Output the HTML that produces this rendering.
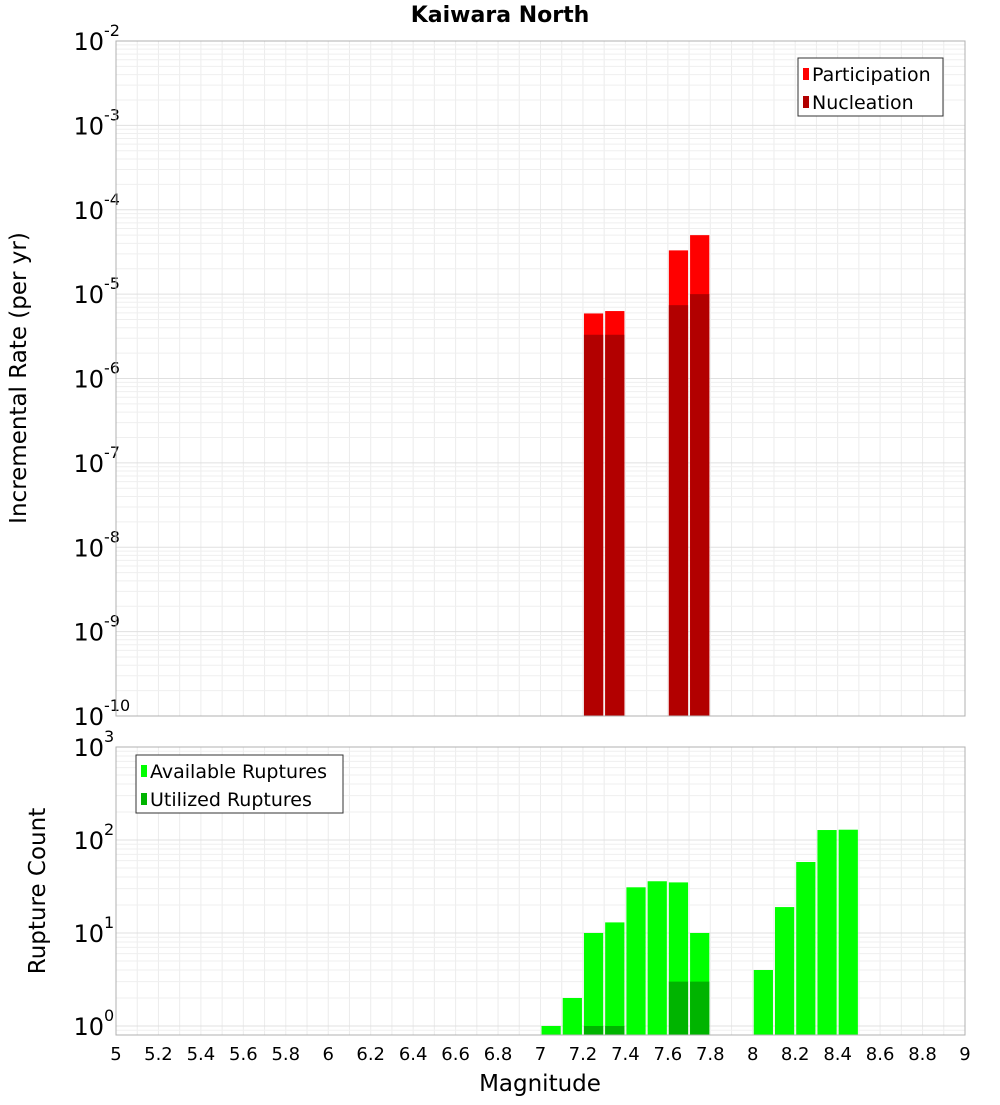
<!DOCTYPE html>
<html><head><meta charset="utf-8">
<style>
body{margin:0;background:#fff;font-family:"Liberation Sans","DejaVu Sans",sans-serif;}
svg text{font-family:"DejaVu Sans","Liberation Sans",sans-serif;}
</style></head>
<body>
<svg id="c" width="1000" height="1100" xmlns="http://www.w3.org/2000/svg">
<text x="500" y="22" text-anchor="middle" font-size="22" font-weight="bold">Kaiwara North</text>
<text transform="translate(26,378) rotate(-90)" text-anchor="middle" font-size="23">Incremental Rate (per yr)</text>
<text transform="translate(45,891) rotate(-90)" text-anchor="middle" font-size="23">Rupture Count</text>
<text x="540" y="1091" text-anchor="middle" font-size="23">Magnitude</text>
</svg>
<script>
const binCenters=[7.25,7.35,7.65,7.75];
const participation=[5.9e-6,6.3e-6,3.3e-5,5e-5];
const nucleation=[3.3e-6,3.3e-6,7.4e-6,1e-5];
const countBins=[7.05,7.15,7.25,7.35,7.45,7.55,7.65,7.75,8.05,8.15,8.25,8.35,8.45];
const available=[1,2,10,13,31,36,35,10,4,19,58,128,129];
const utilBins=[7.25,7.35,7.65,7.75];
const utilized=[1,1,3,3];
const xTicks=[5,5.2,5.4,5.6,5.8,6,6.2,6.4,6.6,6.8,7,7.2,7.4,7.6,7.8,8,8.2,8.4,8.6,8.8,9];
const topExp=[-10,-9,-8,-7,-6,-5,-4,-3,-2];
const botExp=[0,1,2,3];

const svg=document.getElementById('c');
const NS='http://www.w3.org/2000/svg';
const L=116,R=965;
const X=v=>L+(v-5)/4*(R-L);
const T0=41,T1=716,B0=747,B1=1035;
const Yt=v=>T1-(Math.log10(v)+10)/8*(T1-T0);
const bmin=Math.log10(0.8);
const Yb=v=>B1-(Math.log10(v)-bmin)/(3-bmin)*(B1-B0);
function mk(tag,at,parent){const e=document.createElementNS(NS,tag);for(const k in at)e.setAttribute(k,at[k]);(parent||svg).appendChild(e);return e;}

function panel(y0,y1,exps,Y,name){
  const g=mk('g',{});
  
  
  mk('rect',{x:L,y:y0,width:R-L,height:y1-y0,fill:'#fff'},g);
  for(let v=5;v<=9.001;v+=0.1){const x=X(v);mk('line',{x1:x,x2:x,y1:y0,y2:y1,stroke:'#ececec','stroke-width':1},g);}
  for(let i=0;i<exps.length-1;i++){for(let m=1;m<10;m++){const y=Y(m*Math.pow(10,exps[i]));if(y<y0||y>y1)continue;mk('line',{x1:L,x2:R,y1:y,y2:y,stroke:m==1?'#e0e0e0':'#efefef','stroke-width':1},g);}}
  for(let m=1;m<10;m++){const y=Y(m*Math.pow(10,exps[0]-1));if(y>y0&&y<y1)mk('line',{x1:L,x2:R,y1:y,y2:y,stroke:'#efefef'},g);}
  exps.forEach(e=>{const y=Y(Math.pow(10,e));
    const t=mk('text',{x:104,y:y+9,'text-anchor':'end','font-size':24});
    
    
    t.textContent='10';
    const s=mk('text',{x:104,y:y-5,'font-size':16});
    
    
    s.textContent=String(e);
  });
  return g;
}
panel(T0,T1,topExp,Yt,'top');
panel(B0,B1,botExp,Yb,'bottom');

function bar(c,v,Y,yb,fill,nm){const x0=X(c-0.05)+1,x1=X(c+0.05)-1;const y=Y(v);
  const r=mk('rect',{x:x0,y:y,width:x1-x0,height:yb-y,fill:fill});
  
  }
binCenters.forEach((c,i)=>bar(c,participation[i],Yt,T1,'#ff0000','participation-bar'));
binCenters.forEach((c,i)=>bar(c,nucleation[i],Yt,T1,'#b20000','nucleation-bar'));
countBins.forEach((c,i)=>bar(c,available[i],Yb,B1,'#00ff00','available-bar'));
utilBins.forEach((c,i)=>bar(c,utilized[i],Yb,B1,'#00b400','utilized-bar'));

mk('rect',{x:L,y:T0,width:R-L,height:T1-T0,fill:'none',stroke:'#b0b0b0'});
mk('rect',{x:L,y:B0,width:R-L,height:B1-B0,fill:'none',stroke:'#b0b0b0'});

xTicks.forEach(v=>{const t=mk('text',{x:X(v),y:1060,'text-anchor':'middle','font-size':18});
  
  
  t.textContent=String(v);});

function legend(x,y,w,items,nm){const g=mk('g',{});
  
  
  mk('rect',{x:x,y:y,width:w,height:58,fill:'#fff',stroke:'#333'},g);
  items.forEach((it,i)=>{const yy=y+16+i*28;
    mk('rect',{x:x+5,y:yy-6,width:6,height:12,fill:it[1]},g);
    const t=mk('text',{x:x+14,y:yy+7,'font-size':19},g);
    
    
    t.textContent=it[0];});}
legend(798,58,145,[['Participation','#ff0000'],['Nucleation','#b20000']],'top-legend');
legend(136,755,207,[['Available Ruptures','#00ff00'],['Utilized Ruptures','#00b400']],'bottom-legend');
</script>
</body></html>
